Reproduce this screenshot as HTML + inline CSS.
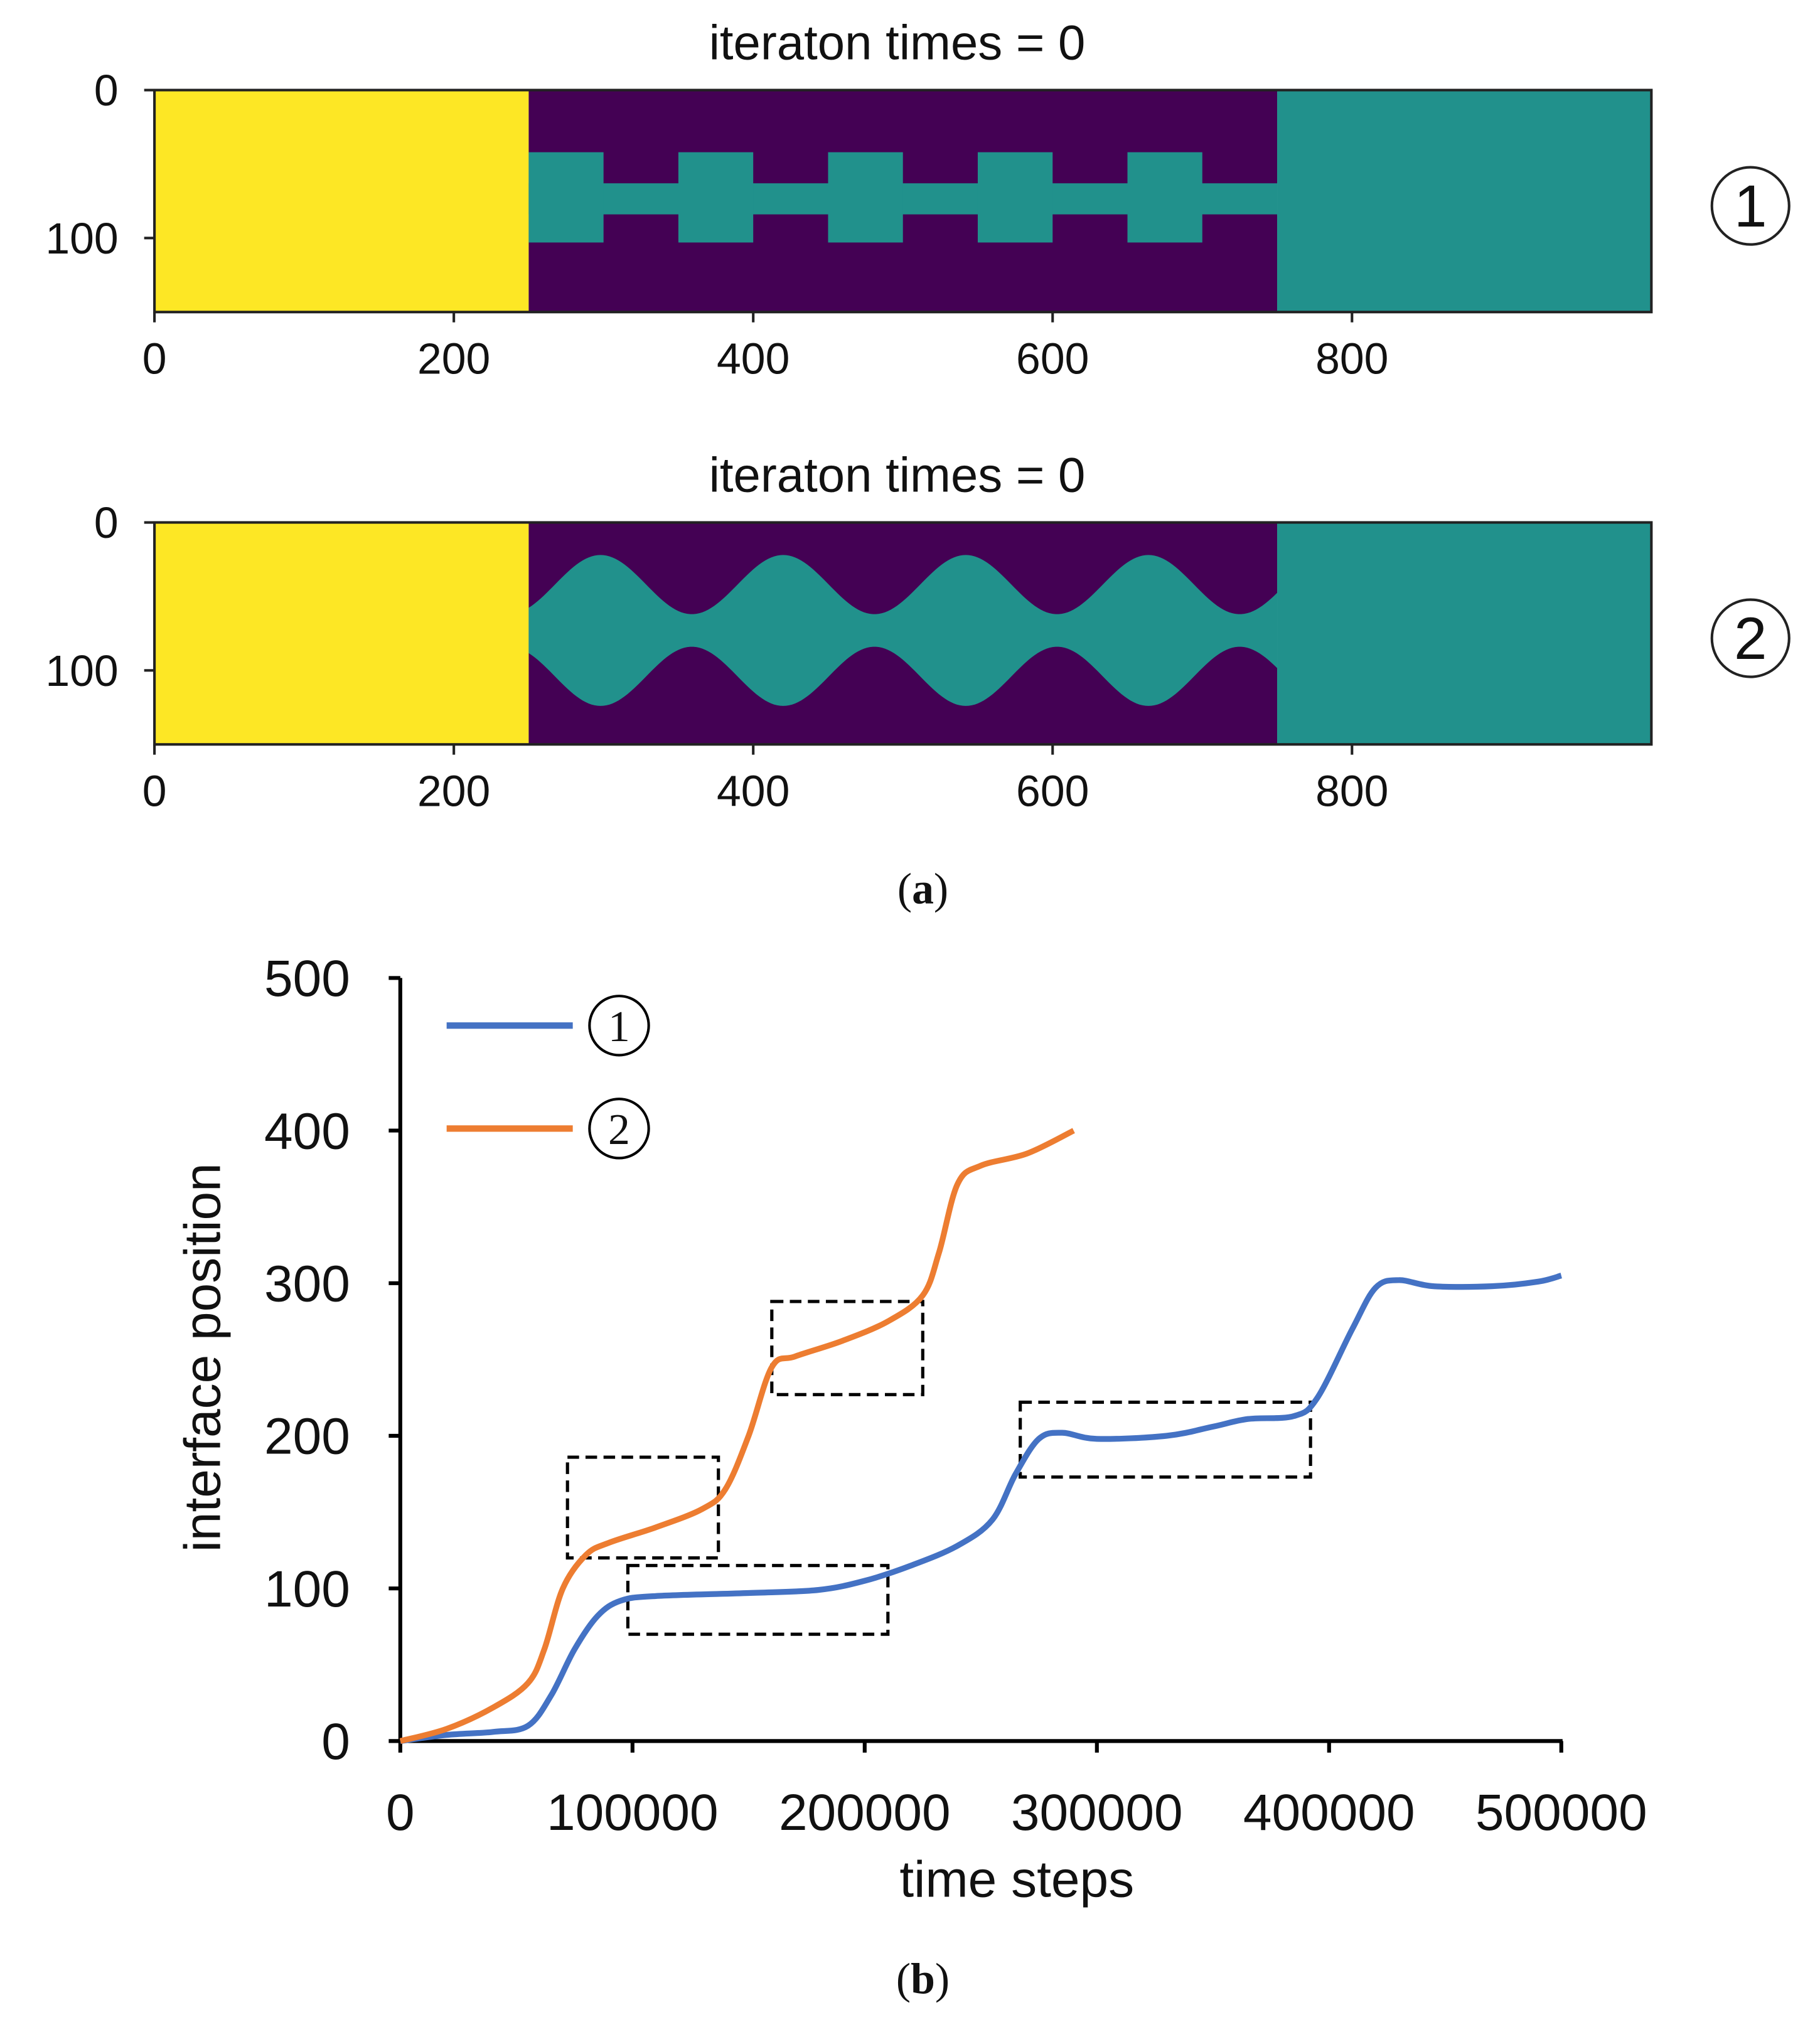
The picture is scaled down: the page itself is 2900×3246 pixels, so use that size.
<!DOCTYPE html>
<html><head><meta charset="utf-8"><style>
html,body{margin:0;padding:0;background:#fff;}
svg{display:block;}
text{font-family:"Liberation Sans","DejaVu Sans",sans-serif;fill:#111;}
</style></head><body>
<svg id="fig" width="2900" height="3246" viewBox="0 0 1414 1583" preserveAspectRatio="none" xmlns="http://www.w3.org/2000/svg">
<g id="topPanels"></g>
<text x="717" y="702" text-anchor="middle" style="font-family:'Liberation Serif',serif" font-size="34">(<tspan font-weight="bold">a</tspan>)</text>
<g id="chart"></g>
<text x="717" y="1549" text-anchor="middle" style="font-family:'Liberation Serif',serif" font-size="34">(<tspan font-weight="bold">b</tspan>)</text>
</svg>
<script>
// ---- chart data ----
const blueX=[0,20,40,55,65,75,85,95,110,150,180,200,220,240,255,265,275,285,300,330,350,365,385,395,410,420,430,445,470,490,500];
const blueY=[0,4,6,10,30,60,82,92,95,97,99,105,115,128,145,175,198,202,198,200,206,211,213,225,270,297,302,298,298,301,305];
const orangeX=[0,20,40,55,62,70,80,90,110,130,140,150,160,170,190,210,225,232,240,250,270,290];
const orangeY=[0,8,22,38,60,100,122,130,140,152,165,200,245,252,262,275,292,320,365,377,385,400];
const boxX0=[72,98,160,267];
const boxX1=[137,210,225,392];
const boxY0=[120,70,227,173];
const boxY1=[186,115,288,222];
const xTicks=[0,100000,200000,300000,400000,500000];
const yTicks=[0,100,200,300,400,500];
const panelXTicks=[0,200,400,600,800];
const panelYTicks=[0,100];

const NS="http://www.w3.org/2000/svg";
function mk(tag,attrs,parent){const e=document.createElementNS(NS,tag);for(const k in attrs)e.setAttribute(k,attrs[k]);parent.appendChild(e);return e;}
function smooth(pts){let d="M"+pts[0][0]+","+pts[0][1];for(let i=0;i<pts.length-1;i++){const p0=pts[Math.max(i-1,0)],p1=pts[i],p2=pts[i+1],p3=pts[Math.min(i+2,pts.length-1)];const c1=[p1[0]+(p2[0]-p0[0])/6,p1[1]+(p2[1]-p0[1])/6],c2=[p2[0]-(p3[0]-p1[0])/6,p2[1]-(p3[1]-p1[1])/6];d+=" C"+c1[0]+","+c1[1]+" "+c2[0]+","+c2[1]+" "+p2[0]+","+p2[1];}return d;}

// ---- top panels ----
const topG=document.getElementById('topPanels');
function panel(y0,kind,label){
  const g=mk('g',{},topG);
  
  
  const px=v=>120+v*1.163, py=v=>y0+v*1.15;
  const t=mk('text',{x:697,y:y0-24,'text-anchor':'middle','font-size':38},g);t.textContent='iteraton times = 0';
  
  
  mk('rect',{x:px(0),y:py(0),width:px(250)-px(0),height:py(150)-py(0),fill:'#fde725'},g);
  mk('rect',{x:px(250),y:py(0),width:px(750)-px(250),height:py(150)-py(0),fill:'#440154'},g);
  mk('rect',{x:px(750),y:py(0),width:px(1000)-px(750),height:py(150)-py(0),fill:'#21918c'},g);
  if(kind===1){
    mk('rect',{x:px(250),y:py(63),width:px(750)-px(250),height:py(84)-py(63),fill:'#21918c'},g);
    for(let i=0;i<5;i++){mk('rect',{x:px(250+i*100),y:py(42),width:px(50)-px(0),height:py(103)-py(42),fill:'#21918c'},g);}
  } else {
    let up=[],dn=[];
    for(let x=250;x<=750;x+=2){const h=31+20*Math.cos(2*Math.PI*(x-298)/122);up.push(px(x)+','+py(73-h));dn.unshift(px(x)+','+py(73+h));}
    mk('polygon',{points:up.concat(dn).join(' '),fill:'#21918c'},g);
  }
  mk('rect',{x:px(0),y:py(0),width:px(1000)-px(0),height:py(150)-py(0),fill:'none',stroke:'#222','stroke-width':2},g);
  panelXTicks.forEach(v=>{mk('line',{x1:px(v),x2:px(v),y1:py(150),y2:py(150)+8,stroke:'#222','stroke-width':2},g);
    const tt=mk('text',{x:px(v),y:py(150)+48,'text-anchor':'middle','font-size':34},g);tt.textContent=v;
    
    });
  panelYTicks.forEach(v=>{mk('line',{x1:px(0)-8,x2:px(0),y1:py(v),y2:py(v),stroke:'#222','stroke-width':2},g);
    const tt=mk('text',{x:px(0)-28,y:py(v)+12,'text-anchor':'end','font-size':34},g);tt.textContent=v;
    
    });
  mk('circle',{cx:1360,cy:y0+90,r:30,fill:'none',stroke:'#222','stroke-width':2},g);
  const c=mk('text',{x:1360,y:y0+106,'text-anchor':'middle','font-size':46},g);c.textContent=label;
  
  
}
panel(70,1,'1');
panel(406,2,'2');

// ---- line chart ----
const ch=document.getElementById('chart');
const X=v=>311+v*(1213-311)/500000, Y=v=>1353-v*(1353-760)/500;
mk('line',{x1:311,x2:311,y1:760,y2:1353,stroke:'#000','stroke-width':3},ch);
mk('line',{x1:311,x2:1214,y1:1353,y2:1353,stroke:'#000','stroke-width':3},ch);
xTicks.forEach(v=>{mk('line',{x1:X(v),x2:X(v),y1:1353,y2:1362,stroke:'#000','stroke-width':3},ch);
  const t=mk('text',{x:X(v),y:1422,'text-anchor':'middle','font-size':40},ch);t.textContent=v;
  
  });
yTicks.forEach(v=>{mk('line',{x1:302,x2:311,y1:Y(v),y2:Y(v),stroke:'#000','stroke-width':3},ch);
  const t=mk('text',{x:272,y:Y(v)+14,'text-anchor':'end','font-size':40},ch);t.textContent=v;
  
  });
const xt=mk('text',{x:790,y:1474,'text-anchor':'middle','font-size':40},ch);xt.textContent='time steps';


const yt=mk('text',{x:0,y:0,'text-anchor':'middle','font-size':40,transform:'translate(171,1055) rotate(-90)'},ch);yt.textContent='interface position';


for(let i=0;i<boxX0.length;i++){
  const r=mk('rect',{x:X(boxX0[i]*1000),y:Y(boxY1[i]),width:X(boxX1[i]*1000)-X(boxX0[i]*1000),height:Y(boxY0[i])-Y(boxY1[i]),fill:'none',stroke:'#000','stroke-width':2.5,'stroke-dasharray':'9,5'},ch);
  
  
}
const bp=mk('path',{d:smooth(blueX.map((x,i)=>[X(x*1000),Y(blueY[i])])),fill:'none',stroke:'#4472c4','stroke-width':4.5},ch);


const op=mk('path',{d:smooth(orangeX.map((x,i)=>[X(x*1000),Y(orangeY[i])])),fill:'none',stroke:'#ed7d31','stroke-width':4.5},ch);


[['1',797,'#4472c4'],['2',877,'#ed7d31']].forEach(([l,y,c])=>{
  const g=mk('g',{},ch);
  
  
  mk('line',{x1:347,x2:445,y1:y,y2:y,stroke:c,'stroke-width':5},g);
  mk('circle',{cx:481,cy:y,r:23,fill:'none',stroke:'#000','stroke-width':2},g);
  const t=mk('text',{x:481,y:y+12,'text-anchor':'middle','font-size':34,style:"font-family:'Liberation Serif',serif"},g);t.textContent=l;
});
</script>
</body></html>
